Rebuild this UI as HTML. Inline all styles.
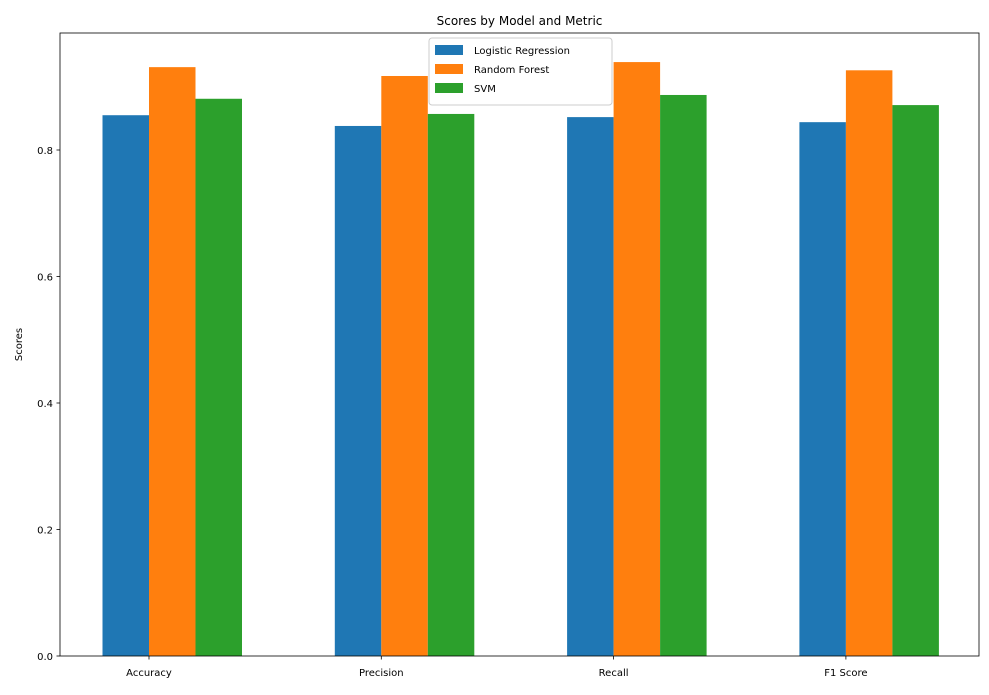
<!DOCTYPE html>
<html><head><meta charset="utf-8"><style>
body{margin:0;background:#fff;font-family:"Liberation Sans","DejaVu Sans",sans-serif}
svg text{font-family:"DejaVu Sans","Liberation Sans",sans-serif;fill:#000}
</style></head><body>
<svg id="chart" width="989" height="690" xmlns="http://www.w3.org/2000/svg"></svg>
<script>
const categories=["Accuracy","Precision","Recall","F1 Score"];
const seriesNames=["Logistic Regression","Random Forest","SVM"];
const seriesColors=["#1f77b4","#ff7f0e","#2ca02c"];
const logisticValues=[0.855,0.838,0.852,0.844];
const forestValues=[0.931,0.917,0.939,0.926];
const svmValues=[0.881,0.857,0.887,0.871];
const yTicks=[0,0.2,0.4,0.6,0.8];
const yTickLabels=["0.0","0.2","0.4","0.6","0.8"];

const NS="http://www.w3.org/2000/svg";
const svg=document.getElementById("chart");
const L=60,R=979,T=33,B=656;
const y=v=>B-v*632.5;
const x=i=>149+i*232.3;
const bw=46.5;
function mk(tag,attrs,parent){const e=document.createElementNS(NS,tag);for(const k in attrs)e.setAttribute(k,attrs[k]);(parent||svg).appendChild(e);return e;}
const all=[logisticValues,forestValues,svmValues];
all.forEach((vals,s)=>{vals.forEach((v,i)=>{
 const cx=x(i)+(s-0.5)*bw;
 const r=mk("rect",{x:cx-bw/2,y:y(v),width:bw,height:B-y(v),fill:seriesColors[s]});
 
 
});});
const frame=mk("rect",{x:L,y:T,width:R-L,height:B-T,fill:"none",stroke:"#000","stroke-width":0.8});


yTicks.forEach((t,i)=>{
 mk("line",{x1:L-3.5,x2:L,y1:y(t),y2:y(t),stroke:"#000","stroke-width":0.8});
 const tx=mk("text",{x:L-7,y:y(t)+4,"text-anchor":"end","font-size":10});
 tx.textContent=yTickLabels[i];
 
 
});
categories.forEach((c,i)=>{
 mk("line",{x1:x(i),x2:x(i),y1:B,y2:B+3.5,stroke:"#000","stroke-width":0.8});
 const tx=mk("text",{x:x(i),y:B+20,"text-anchor":"middle","font-size":10});
 tx.textContent=c;
 
 
});
const yt=mk("text",{x:22,y:(T+B)/2,"text-anchor":"middle","font-size":10,transform:`rotate(-90 22 ${(T+B)/2})`});
yt.textContent="Scores";


const ti=mk("text",{x:(L+R)/2,y:T-8,"text-anchor":"middle","font-size":12});
ti.textContent="Scores by Model and Metric";


const lg=mk("g",{});


mk("rect",{x:429,y:38,width:183,height:67,rx:3,fill:"#fff","fill-opacity":1,stroke:"#ccc"},lg);
seriesNames.forEach((n,i)=>{
 const yy=45+i*19;
 const sw=mk("rect",{x:435,y:yy,width:28,height:10,fill:seriesColors[i]},lg);
 
 
 const tx=mk("text",{x:474,y:yy+9,"font-size":10},lg);
 tx.textContent=n;
 
 
});
</script>
</body></html>
